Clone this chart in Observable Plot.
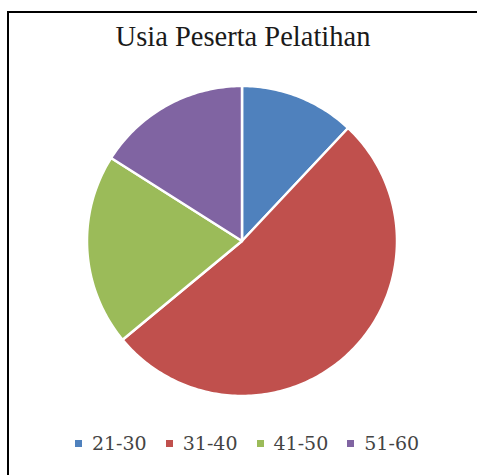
<!DOCTYPE html>
<html>
<head>
<meta charset="utf-8">
<script src="https://cdn.jsdelivr.net/npm/d3@7"></script>
<script src="https://cdn.jsdelivr.net/npm/@observablehq/plot@0.6"></script>
<style>
  html, body { margin: 0; padding: 0; background: #fff; overflow: hidden; }
  #frame { position: absolute; left: 7px; top: 11px; width: 490px; height: 490px; border: 2px solid #000; border-right: none; border-bottom: none; box-sizing: border-box; }
  #title { position: absolute; left: 0; width: 486px; top: 21px; text-align: center; font-family: "Liberation Serif", serif; font-size: 28.5px; color: #1a1a1a; }
  #chart { position: absolute; left: 0; top: 0; }
  #legend { position: absolute; left: 0; width: 494px; top: 432px; display: flex; justify-content: center; font-family: "DejaVu Serif", "Liberation Serif", serif; font-size: 19px; color: #444; }
  #legend .item { display: flex; align-items: center; margin: 0 9.5px; }
  #legend .sw { width: 7px; height: 7px; margin-right: 10px; }
</style>
</head>
<body>
<div id="frame"></div>
<div id="title">Usia Peserta Pelatihan</div>
<div id="chart"></div>
<div id="legend"></div>
<script>
const categories = ["21-30", "31-40", "41-50", "51-60"];
const values = [3, 13, 5, 4];
const colors = ["#4F81BD", "#C0504D", "#9BBB59", "#8064A2"];

const total = d3.sum(values);
const rows = [];
let start = 0;
categories.forEach((c, i) => {
  const a0 = start / total * 2 * Math.PI;
  const a1 = (start + values[i]) / total * 2 * Math.PI;
  start += values[i];
  rows.push({cat: c, x: 0, y: 0});
  const n = Math.max(2, Math.ceil((a1 - a0) / (Math.PI / 180)));
  for (let k = 0; k <= n; k++) {
    const a = a0 + (a1 - a0) * k / n;
    rows.push({cat: c, x: Math.sin(a), y: Math.cos(a)});
  }
});

const cx = 241.5, cy = 240.5, r = 155;
const plot = Plot.plot({
  width: 477,
  height: 475,
  x: {domain: [-1, 1], range: [cx - r, cx + r], axis: null},
  y: {domain: [-1, 1], range: [cy + r, cy - r], axis: null},
  color: {domain: categories, range: colors},
  marks: [
    Plot.line(rows, {x: "x", y: "y", z: "cat", fill: "cat", stroke: "white", strokeWidth: 2.5, strokeLinejoin: "round", curve: "linear-closed"})
  ]
});
plot.style.background = "transparent";
document.getElementById("chart").appendChild(plot);

const legend = document.getElementById("legend");
categories.forEach((c, i) => {
  const item = document.createElement("div");
  item.className = "item";
  const sw = document.createElement("span");
  sw.className = "sw";
  sw.style.background = colors[i];
  const t = document.createElement("span");
  t.textContent = c;
  item.appendChild(sw);
  item.appendChild(t);
  legend.appendChild(item);
});
</script>
</body>
</html>
